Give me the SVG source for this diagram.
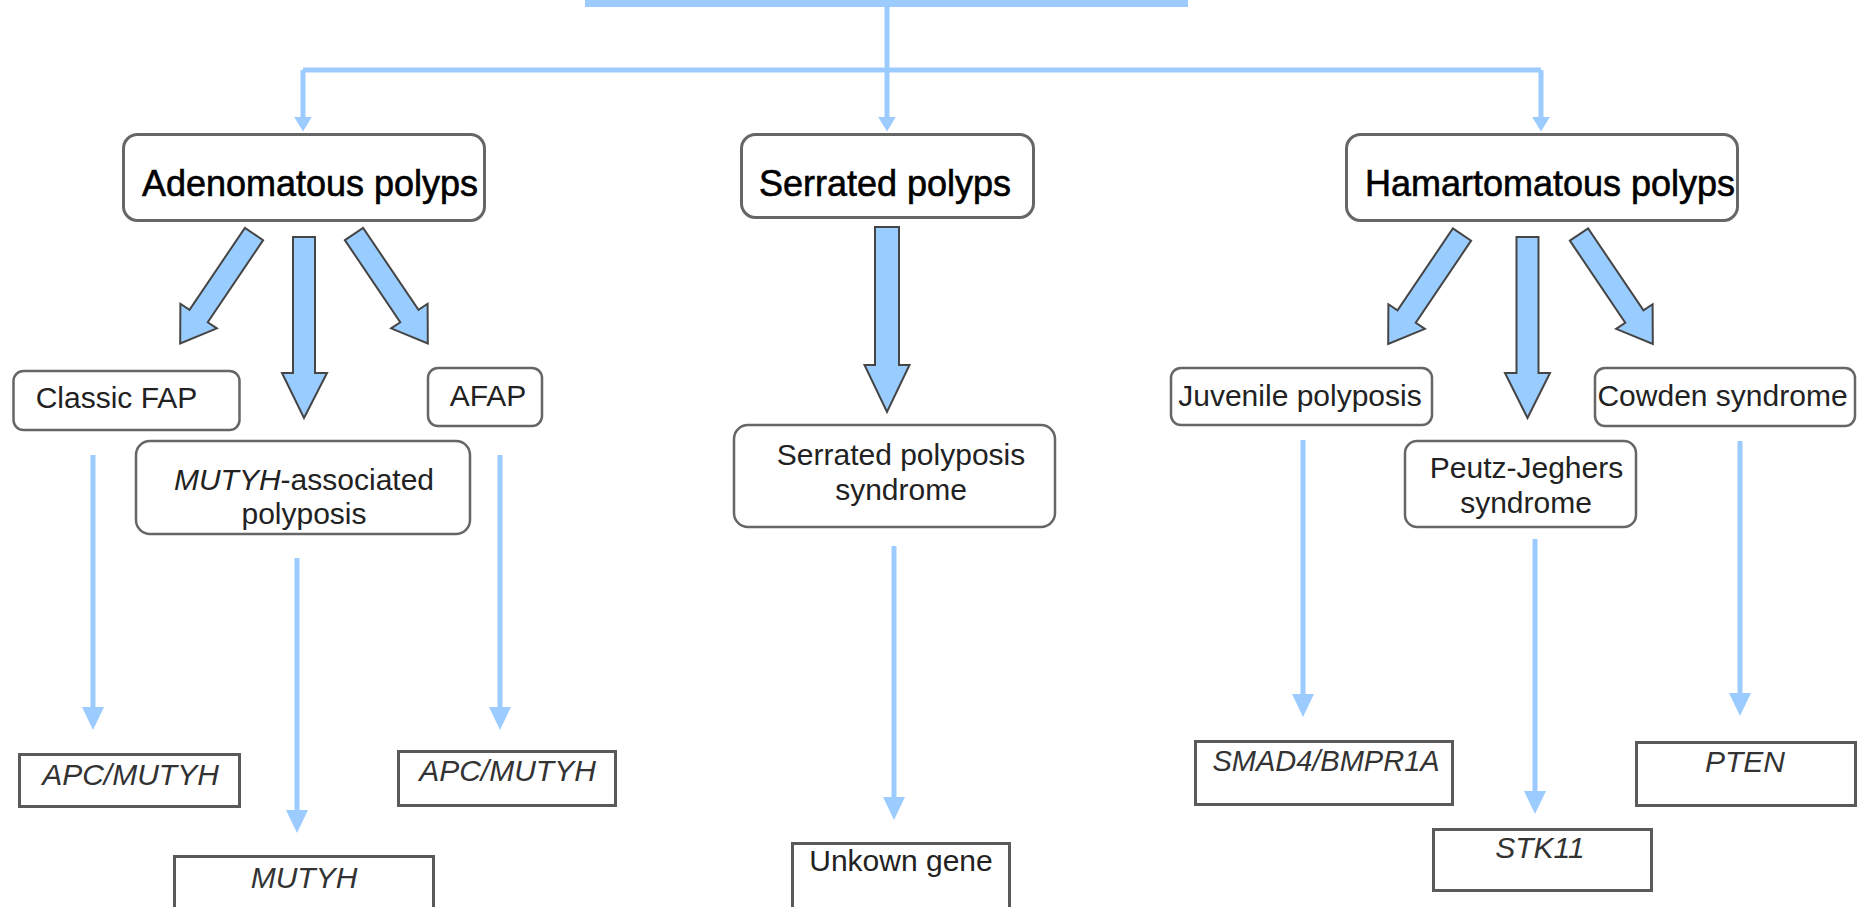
<svg xmlns="http://www.w3.org/2000/svg" width="1864" height="907" viewBox="0 0 1864 907">
<defs>
<style>
.hdr{fill:#fff;stroke:#666;stroke-width:3}
.sub{fill:#fff;stroke:#666;stroke-width:2.5}
.gene{fill:#fff;stroke:#5a5a5a;stroke-width:3}
.ht{font-family:"Liberation Sans",Arial,sans-serif;font-size:36px;fill:#000;stroke:#000;stroke-width:0.6;text-anchor:middle}
.st{font-family:"Liberation Sans",Arial,sans-serif;font-size:30px;fill:#222;text-anchor:middle}
.gt{font-family:"Liberation Sans",Arial,sans-serif;font-size:30px;font-style:italic;fill:#333;text-anchor:middle}
.conn{fill:none;stroke:#9cccff;stroke-width:5}
.thin{fill:none;stroke:#9cccff;stroke-width:5}
.blk{fill:#99ccff;stroke:#454545;stroke-width:2;stroke-linejoin:miter}
</style>
<marker id="ah" markerUnits="userSpaceOnUse" markerWidth="24" markerHeight="24" viewBox="0 0 24 24" refX="3" refY="12" orient="auto">
<path d="M0,1 L23,12 L0,23 Z" fill="#9cccff"/>
</marker>
<marker id="ahs" markerUnits="userSpaceOnUse" markerWidth="16" markerHeight="18" viewBox="0 0 14 16" refX="2" refY="8" orient="auto">
<path d="M0,0 L13,8 L0,16 Z" fill="#9cccff"/>
</marker>
<polygon id="diag" points="-11,0 11,0 11,99 22,99 0,132 -22,99 -11,99"/>
</defs>
<rect width="1864" height="907" fill="#fff"/>

<g id="connectors">
<rect x="588.5" y="-50" width="596" height="53.5" fill="none" stroke="#9cccff" stroke-width="7"/>
<path class="conn" d="M887,7 V119" marker-end="url(#ahs)"/>
<path class="conn" d="M303,70 H1541"/>
<path class="conn" d="M303,70 V119" marker-end="url(#ahs)"/>
<path class="conn" d="M1541,70 V119" marker-end="url(#ahs)"/>
<use href="#diag" class="blk" transform="translate(254,234) rotate(34)"/>
<use href="#diag" class="blk" transform="translate(354,234) rotate(-34)"/>
<polygon class="blk" points="293,237 315,237 315,373 327,373 304,418 282,373 293,373"/>
<polygon class="blk" points="875,227 899,227 899,365 909.5,365 887,412 864.5,365 875,365"/>
<use href="#diag" class="blk" transform="translate(1462,234.5) rotate(34)"/>
<use href="#diag" class="blk" transform="translate(1579,234.5) rotate(-34)"/>
<polygon class="blk" points="1516.5,237 1538.5,237 1538.5,373 1550,373 1527.5,418 1505,373 1516.5,373"/>
<line class="thin" x1="93" y1="455" x2="93" y2="710" marker-end="url(#ah)"/>
<line class="thin" x1="297" y1="558" x2="297" y2="813" marker-end="url(#ah)"/>
<line class="thin" x1="500" y1="455" x2="500" y2="710" marker-end="url(#ah)"/>
<line class="thin" x1="894" y1="546" x2="894" y2="800" marker-end="url(#ah)"/>
<line class="thin" x1="1303" y1="440" x2="1303" y2="697" marker-end="url(#ah)"/>
<line class="thin" x1="1535" y1="539" x2="1535" y2="794" marker-end="url(#ah)"/>
<line class="thin" x1="1740" y1="441" x2="1740" y2="696" marker-end="url(#ah)"/>
</g>

<g id="adenomatous">
<rect class="hdr" x="123.5" y="134.5" width="361" height="86" rx="14"/>
<text class="ht" x="310" y="196">Adenomatous polyps</text>
</g>
<g id="serrated">
<rect class="hdr" x="741.5" y="134.5" width="292" height="83" rx="14"/>
<text class="ht" x="885" y="196">Serrated polyps</text>
</g>
<g id="hamartomatous">
<rect class="hdr" x="1346.5" y="134.5" width="391" height="86" rx="14"/>
<text class="ht" x="1550" y="196">Hamartomatous polyps</text>
</g>

<g id="classic-fap">
<rect class="sub" x="13.5" y="371" width="226" height="59" rx="10"/>
<text class="st" x="116.5" y="408">Classic FAP</text>
</g>
<g id="mutyh-associated">
<rect class="sub" x="136" y="441" width="334" height="93" rx="14"/>
<text class="st" x="304" y="490"><tspan font-style="italic">MUTYH</tspan>-associated</text>
<text class="st" x="304" y="524">polyposis</text>
</g>
<g id="afap">
<rect class="sub" x="428" y="368" width="114" height="58" rx="10"/>
<text class="st" x="488" y="406">AFAP</text>
</g>
<g id="serrated-polyposis">
<rect class="sub" x="734" y="425" width="321" height="102" rx="14"/>
<text class="st" x="901" y="465">Serrated polyposis</text>
<text class="st" x="901" y="500">syndrome</text>
</g>
<g id="juvenile">
<rect class="sub" x="1171" y="368" width="261" height="57" rx="10"/>
<text class="st" x="1300" y="406">Juvenile polyposis</text>
</g>
<g id="peutz-jeghers">
<rect class="sub" x="1405" y="441" width="231" height="86" rx="12"/>
<text class="st" x="1526.5" y="478">Peutz-Jeghers</text>
<text class="st" x="1526" y="513">syndrome</text>
</g>
<g id="cowden">
<rect class="sub" x="1595" y="368" width="260" height="58" rx="10"/>
<text class="st" x="1722.5" y="406">Cowden syndrome</text>
</g>

<g id="gene-apc-1">
<rect class="gene" x="19.5" y="754.5" width="220" height="52"/>
<text class="gt" x="130.5" y="785">APC/MUTYH</text>
</g>
<g id="gene-mutyh">
<rect class="gene" x="174.5" y="856.5" width="259" height="80"/>
<text class="gt" x="304" y="888">MUTYH</text>
</g>
<g id="gene-apc-2">
<rect class="gene" x="398.5" y="751.5" width="217" height="54"/>
<text class="gt" x="507.5" y="781">APC/MUTYH</text>
</g>
<g id="gene-unknown">
<rect class="gene" x="792.5" y="843.5" width="217" height="90"/>
<text class="st" x="901" y="871" fill="#333">Unkown gene</text>
</g>
<g id="gene-smad4">
<rect class="gene" x="1195.5" y="741.5" width="257" height="63"/>
<text class="gt" x="1326" y="771" style="font-size:29px">SMAD4/BMPR1A</text>
</g>
<g id="gene-stk11">
<rect class="gene" x="1433.5" y="829.5" width="218" height="61"/>
<text class="gt" x="1540" y="858">STK11</text>
</g>
<g id="gene-pten">
<rect class="gene" x="1636.5" y="742.5" width="219" height="63"/>
<text class="gt" x="1745" y="772">PTEN</text>
</g>
</svg>
